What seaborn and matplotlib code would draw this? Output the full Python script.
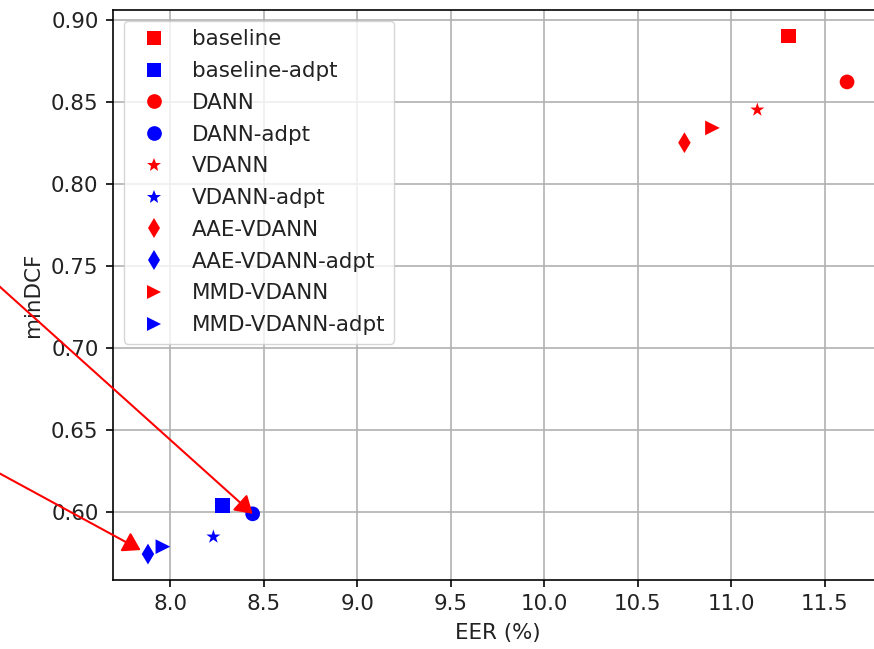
import matplotlib
matplotlib.use("Agg")
import matplotlib.pyplot as plt
from matplotlib.lines import Line2D
import seaborn as sns
import pandas as pd

methods = ["baseline", "baseline-adpt", "DANN", "DANN-adpt", "VDANN", "VDANN-adpt",
           "AAE-VDANN", "AAE-VDANN-adpt", "MMD-VDANN", "MMD-VDANN-adpt"]
eer = [11.305, 8.28, 11.62, 8.44, 11.14, 8.23, 10.75, 7.88, 10.90, 7.96]
mindcf = [0.890, 0.604, 0.862, 0.599, 0.845, 0.585, 0.825, 0.5745, 0.834, 0.579]
colors = ["red", "blue"] * 5
markers = ["s", "s", "o", "o", "*", "*", "d", "d", ">", ">"]

K = 1.48  # scale factor
FS = 15.4
MS = 112
plt.rcParams.update({
    "font.family": ["DejaVu Sans"],
    "font.size": FS,
    "text.color": "#222222",
    "axes.labelcolor": "#222222",
    "xtick.labelcolor": "#222222",
    "ytick.labelcolor": "#222222",
    "axes.linewidth": 0.8 * K,
    "xtick.major.width": 0.8 * K,
    "ytick.major.width": 0.8 * K,
    "xtick.major.size": 3.5 * K,
    "ytick.major.size": 3.5 * K,
    "xtick.major.pad": 3.5 * K,
    "ytick.major.pad": 3.5 * K,
    "axes.labelpad": 4 * K,
    "grid.linewidth": 0.8 * K,
    "grid.color": "#b0b0b0",
})

df = pd.DataFrame({"method": methods, "EER": eer, "minDCF": mindcf})

fig = plt.figure(figsize=(8.74, 6.49), dpi=100)
ax = fig.add_axes([113 / 874, 69 / 649, 769 / 874, 570 / 649])

sns.scatterplot(data=df, x="EER", y="minDCF", hue="method", style="method",
                hue_order=methods, style_order=methods,
                palette=dict(zip(methods, colors)),
                markers=dict(zip(methods, markers)),
                s=MS, linewidth=0, ax=ax, zorder=3)

ax.grid(True, zorder=0)
ax.set_axisbelow(True)
ax.set_xlim(7.693, 11.807)
ax.set_ylim(0.5587, 0.9058)
ax.set_xticks([8.0, 8.5, 9.0, 9.5, 10.0, 10.5, 11.0, 11.5])
ax.set_yticks([0.60, 0.65, 0.70, 0.75, 0.80, 0.85, 0.90])
ax.set_xlabel("EER (%)")
ax.set_ylabel("minDCF")

handles, labels = ax.get_legend_handles_labels()
for h in handles:
    if isinstance(h, Line2D):
        h.set_markersize(MS ** 0.5)
    elif hasattr(h, "set_sizes"):
        h.set_sizes([MS])
ax.legend(handles, labels, loc="upper left", labelspacing=0.55)

# arrows pointing to the adapted results
i1 = methods.index("DANN-adpt")
i2 = methods.index("AAE-VDANN-adpt")
ap = dict(arrowstyle="-|>,head_length=0.4,head_width=0.25", color="red",
          lw=1.0 * K, mutation_scale=26, shrinkA=0)
ax.annotate("", xy=(eer[i1], mindcf[i1]), xycoords="data",
            xytext=(-60, 649 - 233), textcoords="figure pixels",
            arrowprops=dict(ap, shrinkB=0), annotation_clip=False)
ax.annotate("", xy=(eer[i2], mindcf[i2]), xycoords="data",
            xytext=(-60, 649 - 441), textcoords="figure pixels",
            arrowprops=dict(ap, shrinkB=6), annotation_clip=False)

fig.savefig("out.png", dpi=100)
